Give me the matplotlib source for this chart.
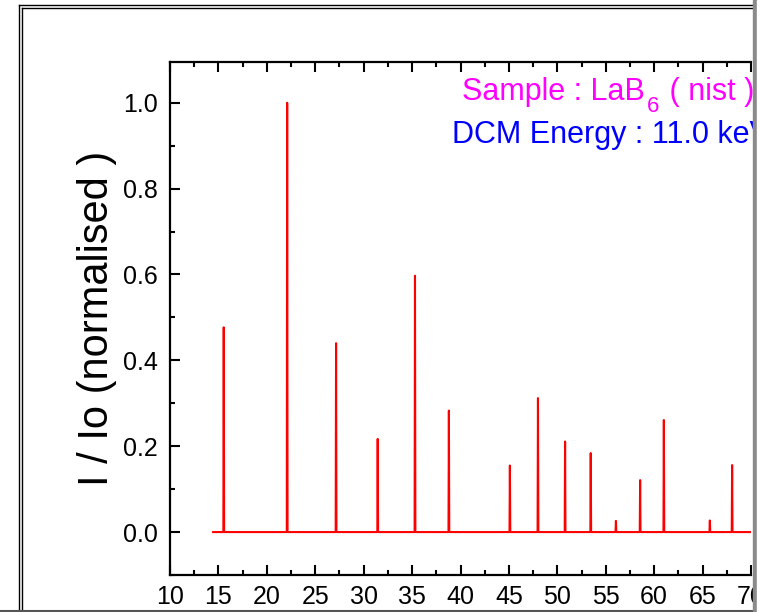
import numpy as np
import matplotlib
matplotlib.use("Agg")
import matplotlib.pyplot as plt
from matplotlib.lines import Line2D
from matplotlib.patches import Rectangle
from matplotlib.ticker import MultipleLocator

plt.rcParams["font.family"] = ["Liberation Sans", "DejaVu Sans"]

# ---- data ----
two_theta_start = 14.45
two_theta_end = 70.0
peak_pos = [15.55, 22.10, 27.15, 31.45, 35.30, 38.80, 45.10, 48.00,
            50.80, 53.45, 56.05, 58.55, 61.00, 65.75, 68.05]
peak_height = [0.477, 1.000, 0.440, 0.217, 0.597, 0.283, 0.155, 0.312,
               0.211, 0.184, 0.026, 0.121, 0.261, 0.027, 0.156]
half_width = 0.04

# spike profile built from the peak table
x = [two_theta_start]
y = [0.0]
for p, h in zip(peak_pos, peak_height):
    x += [p - half_width, p, p + half_width]
    y += [0.0, h, 0.0]
x.append(two_theta_end)
y.append(0.0)

W, H = 760, 612
fig = plt.figure(figsize=(W / 100, H / 100), dpi=100)
ax = fig.add_axes([170 / W, (H - 575) / H, 581 / W, 513 / H])

ax.plot(x, y, color="red", linewidth=1.5)

ax.set_xlim(10, 70)
ax.set_ylim(-0.1, 1.095)
ax.xaxis.set_major_locator(MultipleLocator(5))
ax.xaxis.set_minor_locator(MultipleLocator(2.5))
ax.yaxis.set_minor_locator(MultipleLocator(0.1))
ax.set_yticks([0.0, 0.2, 0.4, 0.6, 0.8, 1.0])
ax.set_yticklabels(["0.0", "0.2", "0.4", "0.6", "0.8", "1.0"])

ax.tick_params(which="both", direction="in", top=True, right=False,
               width=1.5, labelsize=18)
ax.tick_params(axis="x", pad=7)
ax.tick_params(axis="y", pad=9)
ax.tick_params(which="major", length=7.5)
ax.tick_params(which="minor", length=3.8)
for s in ["left", "bottom", "top"]:
    ax.spines[s].set_linewidth(1.6)
ax.spines["right"].set_visible(False)

ax.set_ylabel("I / Io (normalised )", fontsize=30, labelpad=4)

# sample line with a real subscript, laid out piece by piece
renderer = fig.canvas.get_renderer()
xpos = 462
for txt, size, drop in [("Sample : LaB", 22, 0), ("6", 16, 12), (" ( nist )", 22, 0)]:
    t = fig.text(xpos / W, (H - 100 - drop) / H, txt, color="#FF00FF",
                 fontsize=size, ha="left", va="baseline")
    xpos += t.get_window_extent(renderer).width + 2

fig.text(452 / W, (H - 143) / H, "DCM Energy : 11.0 keV",
         color="#0000FF", fontsize=22, ha="left", va="baseline")

# outer double frame and window edge
for off in (0, 3):
    fig.add_artist(Line2D([(19 + off) / W, 1], [(H - 5 - off) / H] * 2,
                          color="black", linewidth=1.0))
    fig.add_artist(Line2D([(19 + off) / W] * 2, [(H - 5 - off) / H, 1.5 / H],
                          color="black", linewidth=1.0))
fig.add_artist(Line2D([0, 1], [1.0 / H] * 2, color="#555555", linewidth=1.5))
fig.add_artist(Rectangle((753 / W, 0), 4 / W, 1, color="#8a8a8a",
                         transform=fig.transFigure, zorder=10))
fig.add_artist(Rectangle((757 / W, 0), 3 / W, 1, color="white",
                         transform=fig.transFigure, zorder=10))

fig.savefig("out.png", dpi=100)
